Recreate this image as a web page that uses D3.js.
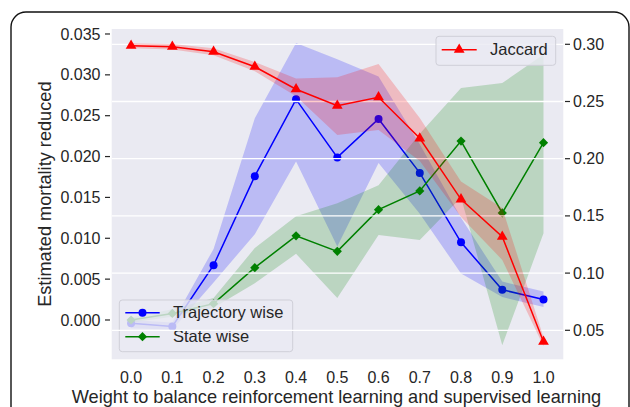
<!DOCTYPE html>
<html><head><meta charset="utf-8">
<script src="https://cdn.jsdelivr.net/npm/d3@7/dist/d3.min.js"></script>
<style>
body{margin:0;background:#fff;}
svg{display:block;font-family:"Liberation Sans",Arial,sans-serif;}
</style></head>
<body><svg id="c" width="630" height="407"></svg>
<script>
const weights = [0.0,0.1,0.2,0.3,0.4,0.5,0.6,0.7,0.8,0.9,1.0];
const trajectory     = [-0.0004,-0.0008,0.0067,0.0176,0.0270,0.0199,0.0246,0.0180,0.0095,0.0037,0.0025];
const trajectoryLow  = [-0.0010,-0.0012,0.0046,0.0105,0.0194,0.0090,0.0192,0.0130,0.0057,0.0028,0.0016];
const trajectoryHigh = [0.0000,-0.0003,0.0087,0.0247,0.0339,0.0319,0.0298,0.0215,0.0125,0.0047,0.0035];
const stateWise      = [0.0000,0.0008,0.0020,0.0064,0.0103,0.0084,0.0135,0.0158,0.0219,0.0131,0.0217];
const stateLow       = [-0.0003,0.0004,0.0015,0.0045,0.0081,0.0027,0.0104,0.0098,0.0150,-0.0031,0.0106];
const stateHigh      = [0.0003,0.0013,0.0027,0.0088,0.0127,0.0143,0.0165,0.0228,0.0284,0.0290,0.0325];
const jaccard        = [0.2988,0.2979,0.2935,0.2804,0.2607,0.2463,0.2537,0.2178,0.1645,0.1318,0.0400];
const jaccardLow     = [0.2965,0.2955,0.2905,0.2765,0.2545,0.2207,0.2250,0.1980,0.1490,0.1115,0.0360];
const jaccardHigh    = [0.3010,0.3003,0.2965,0.2845,0.2700,0.2711,0.2828,0.2355,0.1800,0.1570,0.0440];
const xTicks = [0.0,0.1,0.2,0.3,0.4,0.5,0.6,0.7,0.8,0.9,1.0];
const leftTicks = [0.000,0.005,0.010,0.015,0.020,0.025,0.030,0.035];
const rightTicks = [0.05,0.10,0.15,0.20,0.25,0.30];
const xLabel = "Weight to balance reinforcement learning and supervised learning";
const yLabel = "Estimated mortality reduced";

const svg = d3.select("#c");
const L=111.7, R=563.3, T=29, B=359.3;
const x = d3.scaleLinear().domain([-0.047,1.048]).range([L,R]);
const yl = d3.scaleLinear().domain([-0.00481,0.03561]).range([B,T]);
const yr = d3.scaleLinear().domain([0.02465,0.31337]).range([B,T]);
const txt = "#262626";

// outer frame
svg.append("rect").attr("x",11).attr("y",12).attr("width",618).attr("height",420)
  .attr("rx",15).attr("fill","none").attr("stroke","#111").attr("stroke-width",1.4);

svg.append("rect").attr("x",L).attr("y",T).attr("width",R-L).attr("height",B-T).attr("fill","#EAEAF2");

const clip = svg.append("defs").append("clipPath").attr("id","pc");
clip.append("rect").attr("x",L).attr("y",T).attr("width",R-L).attr("height",B-T);
const gLeft = svg.append("g").attr("clip-path","url(#pc)");

function series(g, y, vals, lo, hi, color, marker){
  const idx = d3.range(weights.length);
  g.append("path").datum(idx)
    .attr("d", d3.area().x(i=>x(weights[i])).y0(i=>y(lo[i])).y1(i=>y(hi[i])))
    .attr("fill",color).attr("fill-opacity",0.2);
  g.append("path").datum(idx)
    .attr("d", d3.line().x(i=>x(weights[i])).y(i=>y(vals[i])))
    .attr("fill","none").attr("stroke",color).attr("stroke-width",1.5);
  idx.forEach(i=>drawMarker(g, x(weights[i]), y(vals[i]), color, marker));
}
function drawMarker(g, cx, cy, color, marker){
  if(marker==="o"){
    g.append("circle").attr("cx",cx).attr("cy",cy).attr("r",4).attr("fill",color);
  } else if(marker==="D"){
    const s=4.6;
    g.append("path").attr("d",`M${cx},${cy-s}L${cx+s},${cy}L${cx},${cy+s}L${cx-s},${cy}Z`).attr("fill",color);
  } else {
    g.append("path").attr("d",d3.symbol().type(d3.symbolTriangle).size(50)())
      .attr("transform",`translate(${cx},${cy})`).attr("fill",color);
  }
}

series(gLeft, yl, trajectory, trajectoryLow, trajectoryHigh, "#0000ff", "o");
series(gLeft, yl, stateWise, stateLow, stateHigh, "#008000", "D");

// legends
function legend(g, x0, y0, w, h, items){
  g.append("rect").attr("x",x0).attr("y",y0).attr("width",w).attr("height",h).attr("rx",3)
    .attr("fill","#EAEAF2").attr("fill-opacity",0.8).attr("stroke","#cfcfd8").attr("stroke-width",1);
  items.forEach(it=>{
    g.append("line").attr("x1",it.x1).attr("x2",it.x2).attr("y1",it.y).attr("y2",it.y)
      .attr("stroke",it.color).attr("stroke-width",1.5);
    drawMarker(g,(it.x1+it.x2)/2,it.y,it.color,it.marker);
    g.append("text").attr("x",it.tx).attr("y",it.y).attr("dy","0.35em")
      .attr("font-size",16.5).attr("fill",txt).text(it.label);
  });
}
legend(svg, 119.3, 300, 173.4, 51.7, [
  {x1:125.3,x2:159.7,y:312.7,color:"#0000ff",marker:"o",tx:173,label:"Trajectory wise"},
  {x1:125.3,x2:159.7,y:336.7,color:"#008000",marker:"D",tx:173,label:"State wise"}
]);

// right axis grid + Jaccard
const gRight = svg.append("g").attr("clip-path","url(#pc)");
rightTicks.forEach(v=>{
  gRight.append("line").attr("x1",L).attr("x2",R).attr("y1",yr(v)).attr("y2",yr(v))
    .attr("stroke","#fff").attr("stroke-width",1.3);
});
series(gRight, yr, jaccard, jaccardLow, jaccardHigh, "#ff0000", "^");

legend(svg, 436, 36.3, 119.7, 29, [
  {x1:441.7,x2:476.7,y:49.7,color:"#ff0000",marker:"^",tx:490,label:"Jaccard"}
]);

// axes ticks
leftTicks.forEach(v=>{
  svg.append("line").attr("x1",105).attr("x2",110).attr("y1",yl(v)).attr("y2",yl(v)).attr("stroke",txt).attr("stroke-width",1.2);
  svg.append("text").attr("x",100.5).attr("y",yl(v)).attr("dy","0.35em").attr("text-anchor","end")
    .attr("font-size",16).attr("fill",txt).text(d3.format(".3f")(v));
});
rightTicks.forEach(v=>{
  svg.append("line").attr("x1",565).attr("x2",570).attr("y1",yr(v)).attr("y2",yr(v)).attr("stroke",txt).attr("stroke-width",1.2);
  svg.append("text").attr("x",573).attr("y",yr(v)).attr("dy","0.35em").attr("text-anchor","start")
    .attr("font-size",16).attr("fill",txt).text(d3.format(".2f")(v));
});
xTicks.forEach(v=>{
  svg.append("text").attr("x",x(v)).attr("y",377).attr("dy","0.35em").attr("text-anchor","middle")
    .attr("font-size",16).attr("fill",txt).text(d3.format(".1f")(v));
});
svg.append("text").attr("x",336.5).attr("y",402.7).attr("text-anchor","middle")
  .attr("font-size",18.2).attr("fill",txt).text(xLabel);
svg.append("text").attr("transform",`translate(51,${(T+B)/2}) rotate(-90)`).attr("text-anchor","middle")
  .attr("font-size",18.2).attr("fill",txt).text(yLabel);
</script></body></html>
